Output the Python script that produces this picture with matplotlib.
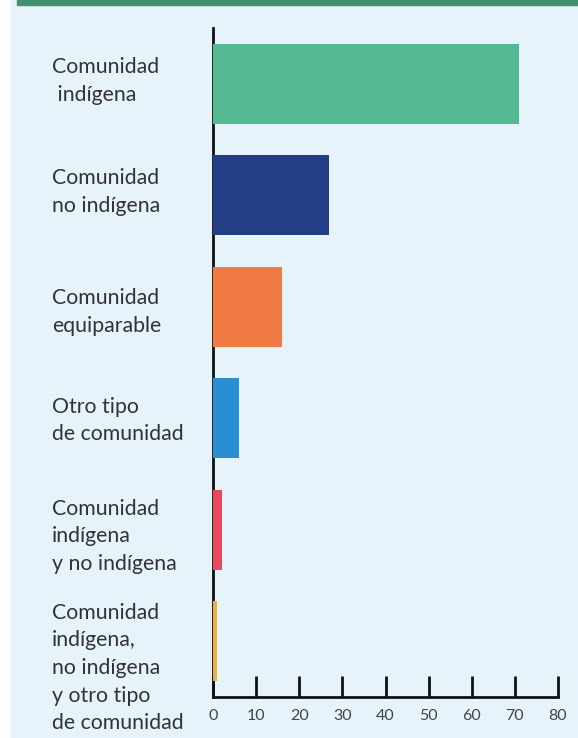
import matplotlib
matplotlib.use('Agg')
import matplotlib.pyplot as plt
from matplotlib.patches import Rectangle

plt.rcParams['font.family'] = ['Lato', 'DejaVu Sans']

# categorías y valores (porcentaje)
labels = ['Comunidad\n indígena',
          'Comunidad\nno indígena',
          'Comunidad\nequiparable',
          'Otro tipo\nde comunidad',
          'Comunidad\nindígena\ny no indígena',
          'Comunidad\nindígena,\nno indígena\ny otro tipo\nde comunidad']
values = [71, 27, 16, 6, 2, 1]
colors = ['#52b990', '#223e87', '#ef7b42', '#2a8ed4', '#e8485b', '#e9af4b']
ticks = [0, 10, 20, 30, 40, 50, 60, 70, 80]

bg = '#e6f3fb'
W, H = 578, 738
fig = plt.figure(figsize=(W / 100, H / 100), dpi=100)
fig.patch.set_facecolor('white')

# fondo azul claro y banda verde superior
fig.patches.append(Rectangle((11 / W, 0), 1, 1, transform=fig.transFigure,
                             color=bg, zorder=-2))
fig.patches.append(Rectangle((17 / W, 1 - 5 / H), 1, 5 / H, transform=fig.transFigure,
                             color='#3f9170', zorder=-1))

ax = fig.add_axes([213 / W, 1 - 697 / H, (558 - 213) / W, (697 - 28) / H])
ax.set_facecolor(bg)
pos = list(range(len(values)))
ax.barh(pos, values, height=0.72, color=colors, zorder=3)
ax.set_ylim(5.5, -0.5)
ax.set_xlim(0, 80)

for s in ['top', 'right']:
    ax.spines[s].set_visible(False)
ax.spines['left'].set_linewidth(2)
ax.spines['bottom'].set_linewidth(2)
ax.spines['left'].set_color('#111111')
ax.spines['bottom'].set_color('#111111')

ax.set_yticks([])
ax.set_xticks(ticks)
ax.tick_params(axis='x', direction='in', length=15, width=2, color='#111111',
               labelsize=11.5, labelcolor='#444444', pad=8.5)
# las etiquetas se leen mejor un poco desplazadas
offsets = [-0.025, -0.03, 0.05, 0.02, 0.06, 0.24]
for i, lab in enumerate(labels):
    ax.text(-0.467, i + offsets[i], lab, transform=ax.get_yaxis_transform(),
            ha='left', va='center', fontsize=15.3, color='#333333',
            linespacing=1.48)

fig.savefig('out.png', dpi=100)
